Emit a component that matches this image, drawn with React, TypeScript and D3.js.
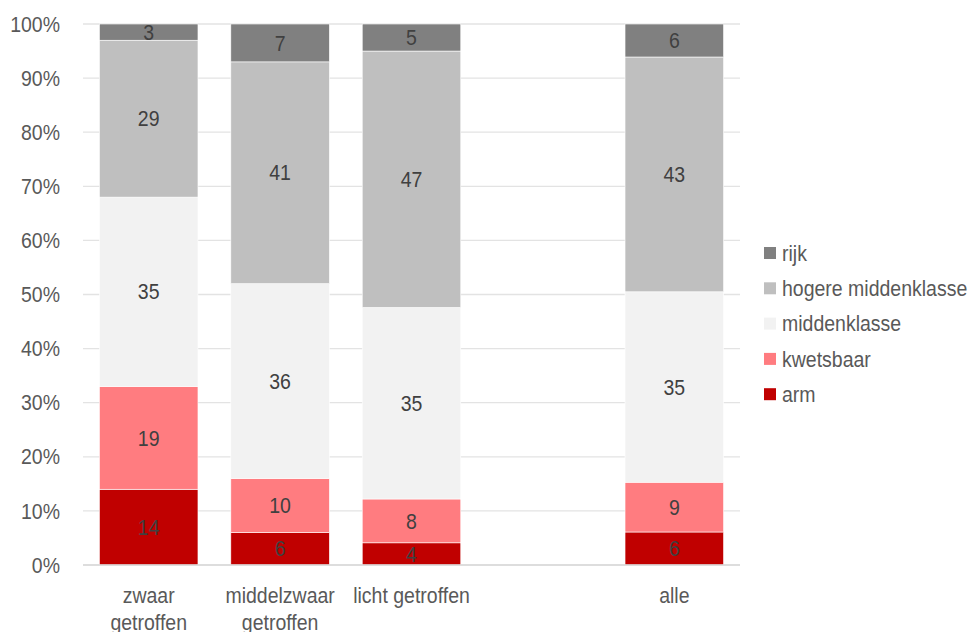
import React from "react";
import * as d3 from "d3";

const categories = ["zwaar getroffen", "middelzwaar getroffen", "licht getroffen", "", "alle"];
const categoryLines = [["zwaar", "getroffen"], ["middelzwaar", "getroffen"], ["licht getroffen"], [], ["alle"]];
const seriesNames = ["arm", "kwetsbaar", "middenklasse", "hogere middenklasse", "rijk"];
const arm = [14, 6, 4.1, null, 6.1];
const kwetsbaar = [19, 10, 8.1, null, 9.2];
const middenklasse = [35, 36, 35.4, null, 35.2];
const hogere = [29, 41, 47.4, null, 43.4];
const rijk = [3, 7, 5, null, 6.1];
const seriesColors = ["#C00000", "#FF7C80", "#F2F2F2", "#BFBFBF", "#808080"];
const yTicks = [0, 10, 20, 30, 40, 50, 60, 70, 80, 90, 100];

const FONT = "'Liberation Sans', Arial, sans-serif";
const TEXT = "#595959";
const FS = 19.5;
const STRETCH = 1.12;

function T({ x, y, anchor = "middle", fill = TEXT, children }: any) {
  return (
    <g transform={`translate(${x},${y}) scale(1,${STRETCH})`}>
      <text x={0} y={0} dy="0.35em" textAnchor={anchor} fontSize={FS} fill={fill}>
        {children}
      </text>
    </g>
  );
}

export default function App() {
  const W = 973, H = 632;
  const left = 83, right = 740, top = 24, bottom = 565;
  const x = d3.scaleBand<string>().domain(categories).range([left, right]).paddingInner(0.25).paddingOuter(0.125);
  const y = d3.scaleLinear().domain([0, 100]).range([bottom, top]);
  const seriesValues = [arm, kwetsbaar, middenklasse, hogere, rijk];

  const rows = categories.map((c, i) => {
    const r: any = { cat: c };
    seriesNames.forEach((s, k) => (r[s] = seriesValues[k][i] ?? 0));
    return r;
  });
  const stacked = d3.stack<any>().keys(seriesNames)(rows);

  const legendOrder = [...seriesNames].reverse();

  return (
    <svg width={W} height={H} style={{ position: "absolute", left: 0, top: 0 }} fontFamily={FONT}>
      {yTicks.map((t) => (
        <g key={t}>
          <line x1={left} x2={right} y1={y(t)} y2={y(t)} stroke="#E3E3E3" strokeWidth={1.3} />
          <T x={60} y={y(t)} anchor="end">{t}%</T>
        </g>
      ))}
      {stacked.map((layer, k) =>
        layer.map((d, i) => {
          const v = seriesValues[k][i];
          if (v == null) return null;
          const bx = x(categories[i])!;
          const y0 = y(d[0]), y1 = y(d[1]);
          return (
            <g key={`${k}-${i}`}>
              <rect x={bx} y={y1} width={x.bandwidth()} height={y0 - y1} fill={seriesColors[k]} stroke="#fff" strokeWidth={0.6} />
              <T x={bx + x.bandwidth() / 2} y={(y0 + y1) / 2} fill="#404040">{Math.round(v)}</T>
            </g>
          );
        })
      )}
      <line x1={left} x2={right} y1={bottom} y2={bottom} stroke="#D9D9D9" strokeWidth={1.3} />
      {categories.map((c, i) =>
        categoryLines[i].map((l, j) => (
          <T key={`${i}-${j}`} x={x(c)! + x.bandwidth() / 2} y={595 + j * 27}>{l}</T>
        ))
      )}
      {legendOrder.map((s, j) => {
        const k = seriesNames.indexOf(s);
        const cy = 253 + j * 35.3;
        return (
          <g key={s}>
            <rect x={764} y={cy - 6} width={12} height={12} fill={seriesColors[k]} />
            <T x={782} y={cy} anchor="start">{s}</T>
          </g>
        );
      })}
    </svg>
  );
}
